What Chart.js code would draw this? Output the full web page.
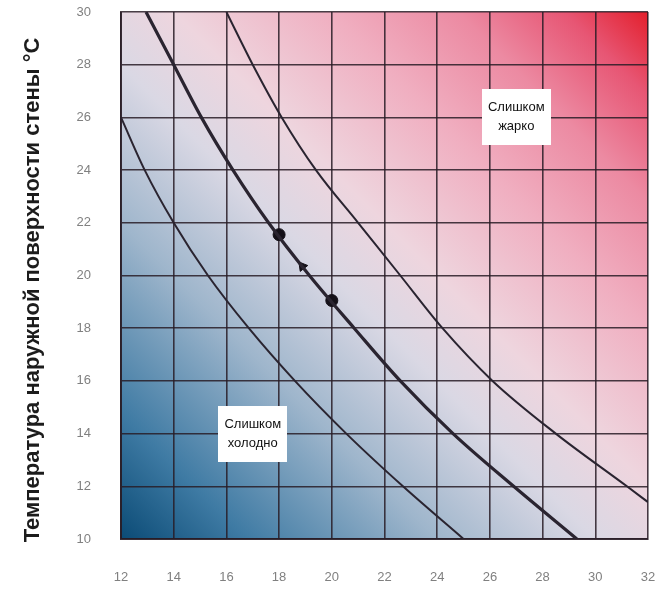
<!DOCTYPE html>
<html lang="ru">
<head>
<meta charset="utf-8">
<title>Зона комфорта</title>
<script src="https://cdn.jsdelivr.net/npm/chart.js@4.4.1/dist/chart.umd.min.js"></script>
<style>
  html, body { margin: 0; padding: 0; background: #ffffff; }
  #wrap { width: 655px; height: 589px; position: relative; }
</style>
</head>
<body>
<div id="wrap"><canvas id="comfortChart"></canvas></div>
<script>
// ===== DATA =====
const xTickLabels = [12, 14, 16, 18, 20, 22, 24, 26, 28, 30, 32];
const yTickLabels = [10, 12, 14, 16, 18, 20, 22, 24, 26, 28, 30];

// нижняя граница комфорта
const coldCurveX = [12, 12.9, 14.0, 15.3, 16.85, 18.6, 20.55, 22.7, 25.0];
const coldCurveY = [26, 24, 22, 20, 18, 16, 14, 12, 10];

// оптимальная кривая
const comfortCurveX = [12.95, 14, 15.05, 16.25, 17.6, 19.15, 20.85, 22.6, 24.6, 26.9, 29.3];
const comfortCurveY = [30, 28, 26, 24, 22, 20, 18, 16, 14, 12, 10];

// верхняя граница комфорта
const hotCurveX = [16, 17.0, 18.1, 19.4, 21.0, 22.6, 24.2, 26.1, 28.5, 31.2, 32];
const hotCurveY = [30, 28, 26, 24, 22, 20, 18, 16, 14, 12, 11.4];

// две точки состояния и стрелка между ними
const stateX = [18, 20];
const stateY = [21.55, 19.05];
const arrowX = [18.88];
const arrowY = [20.35];

// подписи зон
const zoneLabels = [["Слишком", "жарко"], ["Слишком", "холодно"]];
const zoneX = [27, 17];
const zoneY = [26, 14];

const yTitle = "Температура наружной поверхности стены °C";

// ===== HELPERS =====
function toPoints(xs, ys) {
  return xs.map((x, i) => ({ x: x, y: ys[i] }));
}

const fontFamily = "'Liberation Sans', Arial, sans-serif";

// Фон с градиентом: синий (холодно) -> светлый -> красный (жарко)
const gradientBackground = {
  id: "gradientBackground",
  beforeDraw(chart) {
    const { ctx, chartArea } = chart;
    if (!chartArea) return;
    const { left, top, right, bottom } = chartArea;
    const g = ctx.createLinearGradient(left, bottom, right, top);
    g.addColorStop(0, "#0b4b76");
    g.addColorStop(0.12, "#3f7ba4");
    g.addColorStop(0.3, "#9fb6cc");
    g.addColorStop(0.45, "#dad8e4");
    g.addColorStop(0.55, "#eed5de");
    g.addColorStop(0.7, "#f0aec0");
    g.addColorStop(0.82, "#ec8aa2");
    g.addColorStop(0.92, "#e75674");
    g.addColorStop(1, "#e31f2c");
    ctx.save();
    ctx.fillStyle = g;
    ctx.fillRect(left, top, right - left, bottom - top);
    ctx.restore();
  },
};

// Белые прямоугольники с подписями зон
const zoneBoxes = {
  id: "zoneBoxes",
  afterDatasetsDraw(chart) {
    const { ctx, scales } = chart;
    ctx.save();
    ctx.font = "13px " + fontFamily;
    ctx.textAlign = "center";
    ctx.textBaseline = "middle";
    zoneLabels.forEach((lines, i) => {
      const cx = scales.x.getPixelForValue(zoneX[i]);
      const cy = scales.y.getPixelForValue(zoneY[i]);
      const w = Math.max(...lines.map((l) => ctx.measureText(l).width)) + 12;
      const lh = 19;
      const h = lines.length * lh + 18;
      ctx.fillStyle = "#ffffff";
      ctx.fillRect(Math.round(cx - w / 2), Math.round(cy - h / 2), Math.round(w), h);
      ctx.fillStyle = "#111111";
      lines.forEach((l, j) => {
        ctx.fillText(l, cx, cy + (j - (lines.length - 1) / 2) * lh);
      });
    });
    ctx.restore();
  },
};

// Подпись оси Y (вертикальная, чуть ниже центра области графика)
const yAxisTitle = {
  id: "yAxisTitle",
  afterDraw(chart) {
    const { ctx } = chart;
    ctx.save();
    ctx.translate(39, 290);
    ctx.rotate(-Math.PI / 2);
    ctx.font = "bold 22px " + fontFamily;
    ctx.fillStyle = "#1c1c1c";
    ctx.textAlign = "center";
    ctx.textBaseline = "alphabetic";
    ctx.fillText(yTitle, 0, 0);
    ctx.restore();
  },
};

// ===== CHART =====
function initComfortChart() {
  const ctx = document.getElementById("comfortChart").getContext("2d");
  const lineColor = "#2a2430";
  const gridColor = "rgba(40,28,38,0.85)";

  new Chart(ctx, {
    type: "scatter",
    data: {
      datasets: [
        {
          label: "Слишком холодно",
          data: toPoints(coldCurveX, coldCurveY),
          showLine: true,
          borderColor: lineColor,
          borderWidth: 2,
          pointRadius: 0,
          cubicInterpolationMode: "monotone",
        },
        {
          label: "Комфорт",
          data: toPoints(comfortCurveX, comfortCurveY),
          showLine: true,
          borderColor: lineColor,
          borderWidth: 3.2,
          pointRadius: 0,
          cubicInterpolationMode: "monotone",
        },
        {
          label: "Слишком жарко",
          data: toPoints(hotCurveX, hotCurveY),
          showLine: true,
          borderColor: lineColor,
          borderWidth: 2,
          pointRadius: 0,
          cubicInterpolationMode: "monotone",
        },
        {
          label: "Состояния",
          data: toPoints(stateX, stateY),
          pointRadius: 6,
          backgroundColor: "#141018",
          borderColor: "#141018",
        },
        {
          label: "Направление",
          data: toPoints(arrowX, arrowY),
          pointStyle: "triangle",
          pointRadius: 5.5,
          rotation: -38,
          backgroundColor: "#141018",
          borderColor: "#141018",
        },
      ],
    },
    options: {
      responsive: true,
      maintainAspectRatio: false,
      animation: false,
      layout: { padding: { top: 12, right: 6, bottom: 3, left: 0 } },
      plugins: {
        legend: { display: false },
        tooltip: { enabled: false },
      },
      scales: {
        x: {
          type: "linear",
          min: xTickLabels[0],
          max: xTickLabels[xTickLabels.length - 1],
          afterBuildTicks: (scale) => {
            scale.ticks = xTickLabels.map((v) => ({ value: v }));
          },
          afterFit: (scale) => {
            // не даём отступу подписей сжимать область графика
            scale.height = 47;
            scale.paddingLeft = 0;
            scale.paddingRight = 7;
          },
          grid: { color: gridColor, lineWidth: 1.6, drawTicks: false },
          border: { display: true, color: gridColor, width: 2 },
          ticks: {
            color: "#808080",
            padding: 31,
            maxRotation: 0,
            font: { family: fontFamily, size: 13 },
          },
        },
        y: {
          type: "linear",
          min: yTickLabels[0],
          max: yTickLabels[yTickLabels.length - 1],
          afterBuildTicks: (scale) => {
            scale.ticks = yTickLabels.map((v) => ({ value: v }));
          },
          afterFit: (scale) => {
            scale.width = 121;
            scale.paddingTop = 8;
            scale.paddingBottom = 8;
          },
          grid: { color: gridColor, lineWidth: 1.6, drawTicks: false },
          border: { display: true, color: gridColor, width: 2 },
          ticks: {
            color: "#808080",
            padding: 30,
            font: { family: fontFamily, size: 13 },
          },
        },
      },
    },
    plugins: [gradientBackground, zoneBoxes, yAxisTitle],
  });
}

// ===== DOCUMENT READY =====
document.addEventListener("DOMContentLoaded", function () {
  if (typeof Chart !== "undefined") {
    initComfortChart();
  }
});
</script>
</body>
</html>
